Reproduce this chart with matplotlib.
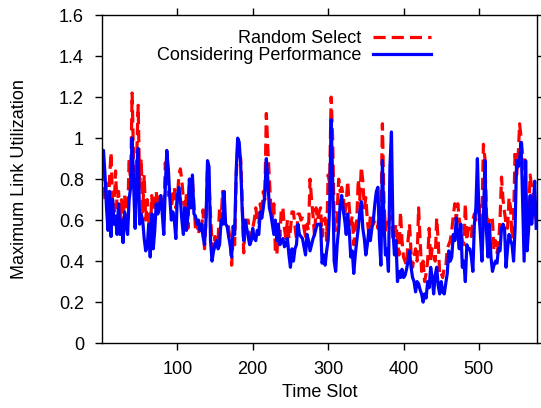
import numpy as np
import matplotlib
matplotlib.use("Agg")
import matplotlib.pyplot as plt

# time slot axis (values read every 2 slots)
time_slot = np.arange(0, 577, 2)

random_select = [
    0.85, 0.8, 0.7, 0.78, 0.62, 0.8, 0.93, 0.7, 0.64, 0.84,
    0.66, 0.74, 0.6, 0.7, 0.58, 0.72, 0.64, 0.6, 0.9, 0.78,
    1.22, 0.88, 0.72, 0.9, 1.16, 0.76, 0.9, 0.64, 0.82, 0.6,
    0.7, 0.6, 0.5, 0.72, 0.6, 0.7, 0.74, 0.64, 0.72, 0.66,
    0.7, 0.6, 0.88, 0.8, 0.72, 0.76, 0.66,
    0.72, 0.76, 0.66, 0.7, 0.82, 0.85, 0.79, 0.7, 0.64, 0.72,
    0.56, 0.8, 0.66, 0.79, 0.68, 0.56, 0.6, 0.53, 0.58, 0.54,
    0.65, 0.46, 0.6, 0.86, 0.78, 0.62, 0.5, 0.45, 0.52, 0.48,
    0.5, 0.66, 0.6, 0.74, 0.62, 0.6, 0.6, 0.56, 0.5, 0.38,
    0.52, 0.48, 0.8, 0.96, 0.92, 0.9, 0.7, 0.44, 0.58, 0.6,
    0.6, 0.47, 0.52, 0.56, 0.6, 0.66, 0.6, 0.58, 0.68, 0.62,
    0.74, 0.7, 1.12, 0.95, 0.81, 0.66, 0.6, 0.68, 0.45, 0.43,
    0.58, 0.52, 0.66, 0.66, 0.56, 0.51, 0.6, 0.51, 0.55, 0.64,
    0.64, 0.57, 0.51, 0.63, 0.63, 0.6, 0.61, 0.56, 0.52, 0.58,
    0.55, 0.8, 0.7, 0.62, 0.52, 0.66, 0.6, 0.64,
    0.66, 0.52, 0.6, 0.61, 0.5, 0.82, 0.78, 1.2, 1.0, 0.6,
    0.55, 0.64, 0.8, 0.74, 0.76, 0.72, 0.62, 0.69, 0.79, 0.66,
    0.58, 0.62, 0.48, 0.56, 0.6, 0.8, 0.7, 0.86, 0.79, 0.66,
    0.71, 0.6, 0.53, 0.62, 0.63, 0.58, 0.6, 0.6, 0.56, 0.66,
    0.6, 1.07, 0.7, 0.55, 0.6, 0.58, 0.62, 0.61, 0.5, 0.53,
    0.58, 0.5, 0.43, 0.64, 0.5, 0.42, 0.4, 0.38, 0.5, 0.58,
    0.44, 0.37, 0.42, 0.46, 0.4, 0.66, 0.5, 0.35, 0.4, 0.3,
    0.34, 0.4, 0.56, 0.4, 0.46, 0.45, 0.4, 0.61, 0.5, 0.33,
    0.34, 0.32, 0.37, 0.37, 0.46, 0.48, 0.5, 0.55, 0.62, 0.68,
    0.6, 0.68, 0.6, 0.56, 0.5, 0.48, 0.68, 0.5, 0.56, 0.56,
    0.52, 0.6, 0.63, 0.6, 0.66, 0.7, 0.58, 0.62, 0.97, 0.9,
    0.63, 0.56, 0.6, 0.62, 0.6, 0.45, 0.5, 0.44, 0.48, 0.6,
    0.81, 0.7, 0.64, 0.58, 0.56, 0.71, 0.66, 0.51, 0.6, 0.94,
    0.82, 0.9, 1.07, 1.0, 0.92, 0.92, 0.7, 0.55, 0.64, 0.82,
    0.76, 0.72, 0.68, 0.6,
]

considering_perf = [
    0.92, 0.94, 0.82, 0.66, 0.55, 0.74, 0.52, 0.7, 0.58, 0.62,
    0.53, 0.68, 0.53, 0.6, 0.49, 0.64, 0.58, 0.53, 0.7, 0.76,
    1.0, 0.77, 0.56, 0.8, 0.95, 0.58, 0.63, 0.6, 0.51, 0.45,
    0.47, 0.58, 0.42, 0.63, 0.46, 0.55, 0.68, 0.63, 0.66, 0.72,
    0.63, 0.53, 0.76, 0.94, 0.85, 0.71, 0.6,
    0.64, 0.6, 0.51, 0.72, 0.76, 0.7, 0.6, 0.53, 0.66, 0.55,
    0.62, 0.8, 0.66, 0.82, 0.63, 0.62, 0.58, 0.6, 0.55, 0.58,
    0.52, 0.48, 0.6, 0.89, 0.86, 0.5, 0.4, 0.45, 0.48, 0.5,
    0.46, 0.48, 0.6, 0.58, 0.74, 0.58, 0.57, 0.52, 0.48, 0.42,
    0.57, 0.53, 0.84, 1.0, 0.98, 0.87, 0.65, 0.5, 0.6, 0.56,
    0.52, 0.48, 0.5, 0.56, 0.51, 0.5, 0.55, 0.53, 0.64, 0.61,
    0.66, 0.72, 0.9, 0.8, 0.66, 0.63, 0.58, 0.53, 0.6, 0.5,
    0.58, 0.48, 0.5, 0.51, 0.47, 0.48, 0.51, 0.43, 0.37, 0.46,
    0.4, 0.46, 0.48, 0.58, 0.53, 0.52, 0.51, 0.47, 0.43, 0.53,
    0.5, 0.45, 0.48, 0.51, 0.53, 0.56, 0.58, 0.58,
    0.58, 0.39, 0.43, 0.38, 0.45, 0.5, 0.66, 1.09, 0.8, 0.4,
    0.35, 0.48, 0.56, 0.68, 0.72, 0.65, 0.6, 0.53, 0.63, 0.55,
    0.42, 0.45, 0.34, 0.43, 0.5, 0.56, 0.64, 0.69, 0.56, 0.51,
    0.43, 0.48, 0.55, 0.5, 0.56, 0.6, 0.68, 0.74, 0.76, 0.51,
    0.38, 0.89, 0.6, 0.43, 0.46, 0.35, 0.86, 1.03, 0.55, 0.43,
    0.5, 0.3, 0.35, 0.32, 0.36, 0.32, 0.33, 0.36, 0.4, 0.45,
    0.37, 0.32, 0.3, 0.25, 0.3, 0.29, 0.26, 0.24, 0.2, 0.24,
    0.22, 0.3, 0.27, 0.37, 0.32, 0.24, 0.33, 0.37, 0.28, 0.24,
    0.3, 0.25, 0.24, 0.29, 0.34, 0.45, 0.4, 0.42, 0.53, 0.5,
    0.61, 0.53, 0.46, 0.58, 0.37, 0.4, 0.3, 0.48, 0.46, 0.46,
    0.42, 0.35, 0.58, 0.66, 0.9, 0.64, 0.53, 0.4, 0.6, 0.89,
    0.55, 0.42, 0.58, 0.42, 0.35, 0.38, 0.4, 0.39, 0.46, 0.45,
    0.56, 0.58, 0.56, 0.37, 0.46, 0.53, 0.5, 0.48, 0.4, 0.56,
    0.89, 0.86, 0.89, 0.98, 0.69, 0.4, 0.89, 0.45, 0.56, 0.72,
    0.58, 0.66, 0.79, 0.56,
]

assert len(random_select) == len(time_slot)
assert len(considering_perf) == len(time_slot)

y_ticks = [0, 0.2, 0.4, 0.6, 0.8, 1, 1.2, 1.4, 1.6]
y_labels = ["0", "0.2", "0.4", "0.6", "0.8", "1", "1.2", "1.4", "1.6"]
x_ticks = [100, 200, 300, 400, 500]

plt.rcParams['font.family'] = ['Liberation Sans', 'DejaVu Sans']
plt.rcParams['font.size'] = 13

fig = plt.figure(figsize=(5.41, 4.08), dpi=100)
ax = fig.add_axes([0.1885, 0.159, 0.804, 0.804])

ax.plot(time_slot, random_select, color='#ff0000', lw=2.3,
        dashes=(3.8, 1.9), label='Random Select')
ax.plot(time_slot, considering_perf, color='#0000ff', lw=2.3,
        label='Considering Performance')

ax.set_xlim(0, 577)
ax.set_ylim(0, 1.6)
ax.set_xticks(x_ticks)
ax.set_yticks(y_ticks)
ax.set_yticklabels(y_labels)
ax.tick_params(direction='out', length=5, width=1, top=True, right=True,
               labeltop=False, labelright=False, pad=8)
for s in ax.spines.values():
    s.set_linewidth(1.0)

ax.set_xlabel('Time Slot')
ax.set_ylabel('Maximum Link Utilization')
ax.xaxis.set_label_coords(0.5, -0.125)
ax.yaxis.set_label_coords(-0.17, 0.5)

ax.legend(loc='upper right', bbox_to_anchor=(0.813, 0.948),
          bbox_transform=fig.transFigure, frameon=False, markerfirst=False,
          handlelength=3.2, handletextpad=0.67, borderpad=0,
          labelspacing=0.0)

fig.savefig('out.png', dpi=100)
